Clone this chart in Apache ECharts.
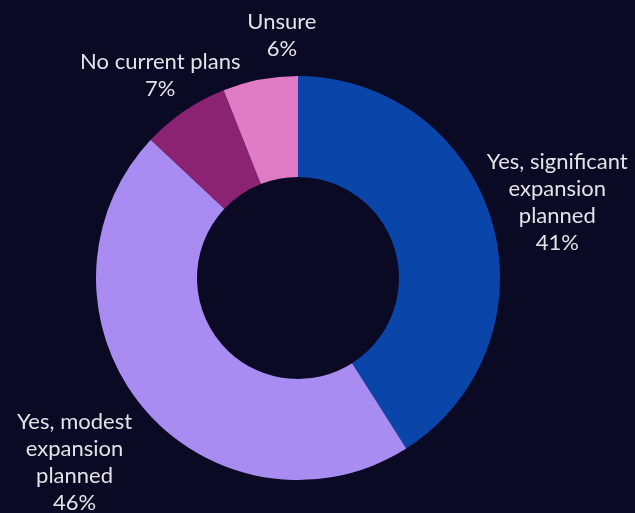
<!DOCTYPE html>
<html>
<head>
<meta charset="utf-8">
<script src="https://cdn.jsdelivr.net/npm/echarts@6/dist/echarts.min.js"></script>
<style>
  html, body { margin: 0; padding: 0; background: #0a0a24; }
  #chart { width: 635px; height: 513px; }
</style>
</head>
<body>
<div id="chart"></div>
<script>
// Survey answers (label text carries its own line breaks)
const categories = [
  'Yes, significant\nexpansion\nplanned',
  'Yes, modest\nexpansion\nplanned',
  'No current plans',
  'Unsure'
];
const values = [41, 46, 7, 6];
const colors = ['#0a46aa', '#a98cf1', '#8b2372', '#e07bc5'];

// Label placement: distance from the centre and angular nudge (degrees)
const labelDistance = [270, 290, 245, 243];
const labelNudge = [0, 0, 0, 7];

const CX = 298, CY = 278, R_IN = 101, R_OUT = 202;

const total = values.reduce((a, b) => a + b, 0);
const midAngles = [];
let acc = 0;
values.forEach(v => {
  midAngles.push((acc + v / 2) / total * 360);
  acc += v;
});

const chart = echarts.init(document.getElementById('chart'));
chart.setOption({
  backgroundColor: '#0a0a24',
  animation: false,
  series: [{
    type: 'pie',
    center: [CX, CY],
    radius: [R_IN, R_OUT],
    startAngle: 90,
    clockwise: true,
    avoidLabelOverlap: false,
    data: categories.map((name, i) => ({
      name: name,
      value: values[i],
      itemStyle: { color: colors[i] }
    })),
    label: {
      show: true,
      position: 'outside',
      formatter: '{b}\n{c}%',
      color: '#e2e2e8',
      fontFamily: 'Lato',
      fontSize: 22,
      lineHeight: 27,
      align: 'center'
    },
    labelLine: { show: false },
    labelLayout: function (p) {
      const i = p.dataIndex;
      const a = (midAngles[i] + labelNudge[i]) * Math.PI / 180;
      const d = labelDistance[i];
      return {
        x: CX + d * Math.sin(a),
        y: CY - d * Math.cos(a),
        align: 'center',
        verticalAlign: 'middle'
      };
    },
    emphasis: { disabled: true }
  }]
});
</script>
</body>
</html>
